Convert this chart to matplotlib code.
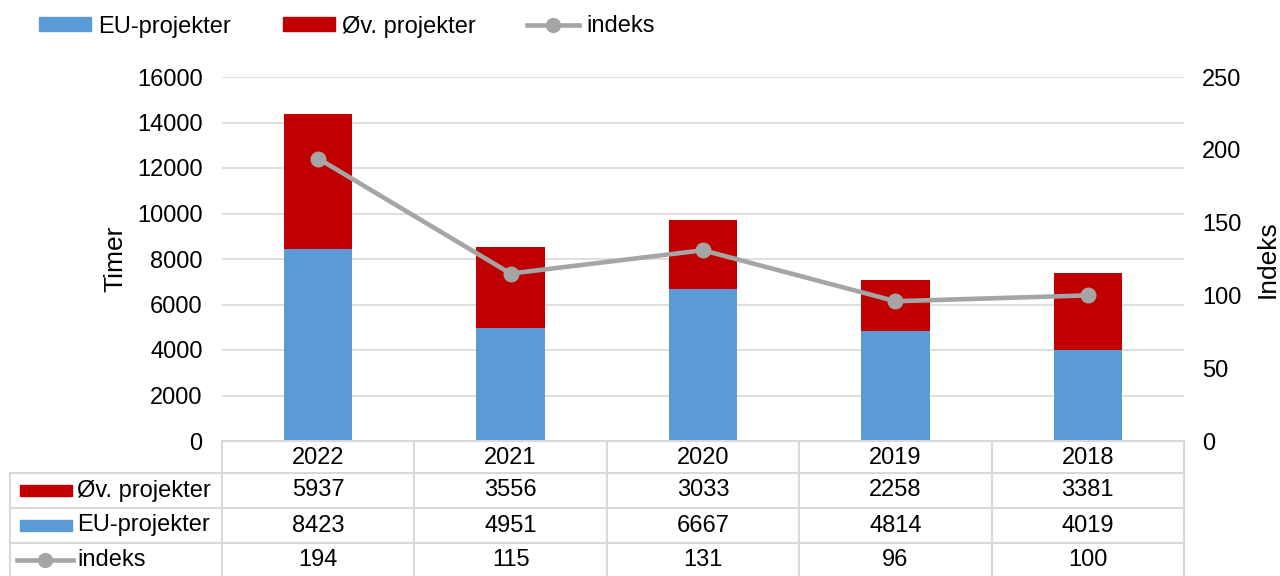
import matplotlib.pyplot as plt
from matplotlib.lines import Line2D
from matplotlib.patches import Rectangle

plt.rcParams['font.family'] = ['Liberation Sans', 'DejaVu Sans']

years = ['2022', '2021', '2020', '2019', '2018']
eu_projekter = [8423, 4951, 6667, 4814, 4019]
ov_projekter = [5937, 3556, 3033, 2258, 3381]
indeks = [194, 115, 131, 96, 100]

blue = '#5b9bd5'
red = '#c00000'
grey = '#a5a5a5'
gridc = '#d9d9d9'
fs = 17

fig = plt.figure(figsize=(12.8, 5.76), dpi=100)
ax = fig.add_axes([222 / 1280, 1 - 441 / 576, 962 / 1280, 364 / 576])
ax2 = ax.twinx()

x = [i + 0.5 for i in range(len(years))]
ax.bar(x, eu_projekter, width=0.355, color=blue, zorder=2)
ax.bar(x, ov_projekter, width=0.355, bottom=eu_projekter, color=red, zorder=2)
ax2.plot(x, indeks, color=grey, lw=3.3, marker='o', ms=10.5, zorder=3)

ax.set_xlim(0, len(years))
ax.set_ylim(0, 16000)
ax.set_yticks(range(0, 16001, 2000))
ax2.set_ylim(0, 250)
ax2.set_yticks(range(0, 251, 50))
ax.yaxis.grid(True, color=gridc, lw=1.2, zorder=0)
ax.set_axisbelow(True)
ax.set_xticks([])
for a in (ax, ax2):
    for s in a.spines.values():
        s.set_visible(False)
    a.tick_params(length=0, labelsize=fs)
ax.tick_params(axis='y', pad=14)
ax2.tick_params(axis='y', pad=13)
ax.set_ylabel('Timer', fontsize=19, labelpad=7)
ax2.set_ylabel('Indeks', fontsize=19, labelpad=10)

# data table under the plot, in axes coordinates
px = 1 / 364.0
rows_y = [0, -32 * px, -67 * px, -102 * px, -135 * px]
left = (10 - 222) / 962.0
n = len(years)
lk = dict(color=gridc, lw=1.5, transform=ax.transAxes, clip_on=False)
ax.add_line(Line2D([0, 1], [0, 0], **lk))
for yy in rows_y[1:4]:
    ax.add_line(Line2D([left, 1], [yy, yy], **lk))
for k in range(n + 1):
    ax.add_line(Line2D([k / n, k / n], [0, rows_y[-1]], **lk))
ax.add_line(Line2D([left, left], [rows_y[1], rows_y[-1]], **lk))

table_rows = [ov_projekter, eu_projekter, indeks]
for k, yr in enumerate(years):
    ax.text((k + 0.5) / n, (rows_y[0] + rows_y[1]) / 2 - 1.5 * px, yr, ha='center', va='center',
            fontsize=fs, transform=ax.transAxes)
    for r, vals in enumerate(table_rows):
        ax.text((k + 0.5) / n, (rows_y[r + 1] + rows_y[r + 2]) / 2, str(vals[k]),
                ha='center', va='center', fontsize=fs, transform=ax.transAxes)

labels = ['Øv. projekter', 'EU-projekter', 'indeks']
kx0 = (20 - 222) / 962.0
kx1 = (72 - 222) / 962.0
for r, lab in enumerate(labels):
    ym = (rows_y[r + 1] + rows_y[r + 2]) / 2
    if r < 2:
        ax.add_patch(Rectangle((kx0, ym - 5.5 * px), kx1 - kx0, 11 * px, color=[red, blue][r],
                               transform=ax.transAxes, clip_on=False))
    else:
        ax.add_line(Line2D([kx0 - 3 / 962.0, kx1 + 1 / 962.0], [ym, ym], color=grey, lw=3.3,
                           transform=ax.transAxes, clip_on=False))
        ax.add_line(Line2D([(kx0 + kx1) / 2 - 1 / 962.0], [ym], color=grey, marker='o', ms=10,
                           transform=ax.transAxes, clip_on=False))
    ax.text(kx1 + 5 / 962.0, ym, lab, ha='left', va='center', fontsize=fs, transform=ax.transAxes)

handles = [Rectangle((0, 0), 1, 1, color=blue), Rectangle((0, 0), 1, 1, color=red),
           Line2D([], [], color=grey, lw=3.3, marker='o', ms=10)]
fig.legend(handles, ['EU-projekter', 'Øv. projekter', 'indeks'], loc='center left',
           bbox_to_anchor=(39 / 1280, 1 - 26.5 / 576), ncol=3, frameon=False, fontsize=fs,
           borderpad=0, borderaxespad=0,
           handlelength=2.2, handleheight=0.55, handletextpad=0.3, columnspacing=2.2)

fig.savefig('out.png', dpi=100)
